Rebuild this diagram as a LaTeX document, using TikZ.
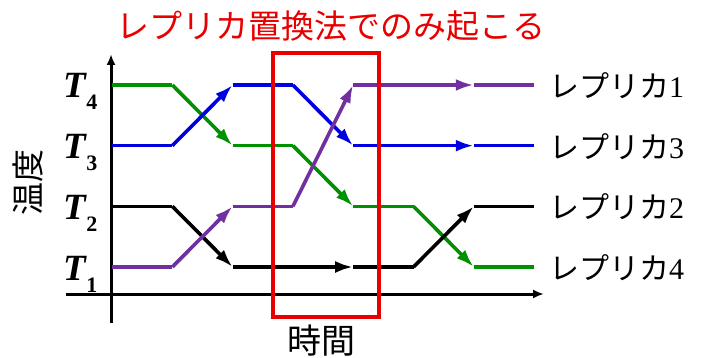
\documentclass[tikz,border=0pt]{standalone}
\usepackage{fontspec}
\setmainfont{Liberation Serif}
\newfontfamily\jp{Noto Sans CJK JP}
\usetikzlibrary{arrows.meta}
\definecolor{rgreen}{RGB}{0,145,0}
\definecolor{rblue}{RGB}{0,0,225}
\definecolor{rpurple}{RGB}{112,48,160}
\definecolor{rred}{RGB}{232,0,0}
\tikzset{
  seg/.style={line width=3.6pt},
  arr/.style={seg,-{Latex[length=18pt,width=12pt]}},
  axis/.style={line width=3pt,-{Latex[length=11pt,width=9pt]}},
  replabel/.style={anchor=west,inner sep=0pt,font=\fontsize{30}{30}\selectfont},
  tlabel/.style={anchor=base west,inner sep=0pt},
  cjk/.style={inner sep=0pt,font=\jp\fontsize{33}{33}\selectfont}
}
\newcommand{\Tlab}[1]{{\fontsize{37}{37}\selectfont\bfseries\itshape T}\kern0.5pt\raisebox{-12pt}{\fontsize{22}{22}\selectfont\bfseries #1}}
\begin{document}
\begin{tikzpicture}[x=1pt,y=-1pt]
\useasboundingbox (0,0) rectangle (703,358);
% grid coordinates
\foreach \i in {0,...,7} {
  \foreach \j in {1,...,4} {
    \coordinate (c\i-\j) at ({112+60.3*\i},{267-60.67*(\j-1)});
  }
}
% axes
\coordinate (vb) at (111,323);
\coordinate (vt) at (111,54);
\coordinate (hl) at (66,294);
\coordinate (hr) at (544,294);
\draw[axis] (vb) -- (vt);
\draw[axis] (hl) -- (hr);
% green
\draw[seg,rgreen] (c0-4) -- (c1-4);
\draw[arr,rgreen] (c1-4) -- (c2-3);
\draw[seg,rgreen] (c2-3) -- (c3-3);
\draw[arr,rgreen] (c3-3) -- (c4-2);
\draw[seg,rgreen] (c4-2) -- (c5-2);
\draw[arr,rgreen] (c5-2) -- (c6-1);
\draw[seg,rgreen] (c6-1) -- (c7-1);
% black
\draw[seg,black] (c0-2) -- (c1-2);
\draw[arr,black] (c1-2) -- (c2-1);
\draw[seg,black] (c2-1) -- (c3-1);
\draw[arr,black] (c3-1) -- (c4-1);
\draw[seg,black] (c4-1) -- (c5-1);
\draw[arr,black] (c5-1) -- (c6-2);
\draw[seg,black] (c6-2) -- (c7-2);
% blue
\draw[seg,rblue] (c0-3) -- (c1-3);
\draw[arr,rblue] (c1-3) -- (c2-4);
\draw[seg,rblue] (c2-4) -- (c3-4);
\draw[arr,rblue] (c3-4) -- (c4-3);
\draw[seg,rblue] (c4-3) -- (c5-3);
\draw[arr,rblue] (c5-3) -- (c6-3);
\draw[seg,rblue] (c6-3) -- (c7-3);
% purple
\draw[seg,rpurple] (c0-1) -- (c1-1);
\draw[arr,rpurple] (c1-1) -- (c2-2);
\draw[seg,rpurple] (c2-2) -- (c3-2);
\draw[arr,rpurple] (c3-2) -- (c4-4);
\draw[seg,rpurple] (c4-4) -- (c5-4);
\draw[arr,rpurple] (c5-4) -- (c6-4);
\draw[seg,rpurple] (c6-4) -- (c7-4);
% red box
\coordinate (b1) at (273,53);
\coordinate (b2) at (379,317);
\draw[rred,line width=4pt] (b1) rectangle (b2);
% labels
\node[cjk,text=rred] (title) at (331,26) {レプリカ置換法でのみ起こる};
\node[replabel] (r1) at (549,86) {{\jp レプリカ}1};
\node[replabel] (r3) at (549,147) {{\jp レプリカ}3};
\node[replabel] (r2) at (549,207) {{\jp レプリカ}2};
\node[replabel] (r4) at (549,268) {{\jp レプリカ}4};
\node[tlabel] (t4) at (63,98) {\Tlab{4}};
\node[tlabel] (t3) at (63,159) {\Tlab{3}};
\node[tlabel] (t2) at (63,219) {\Tlab{2}};
\node[tlabel] (t1) at (63,280) {\Tlab{1}};
\node[cjk,rotate=90] (ylab) at (28,182) {温度};
\node[cjk,font=\jp\fontsize{34}{34}\selectfont] (xlab) at (321,341) {時間};
\end{tikzpicture}
\end{document}
